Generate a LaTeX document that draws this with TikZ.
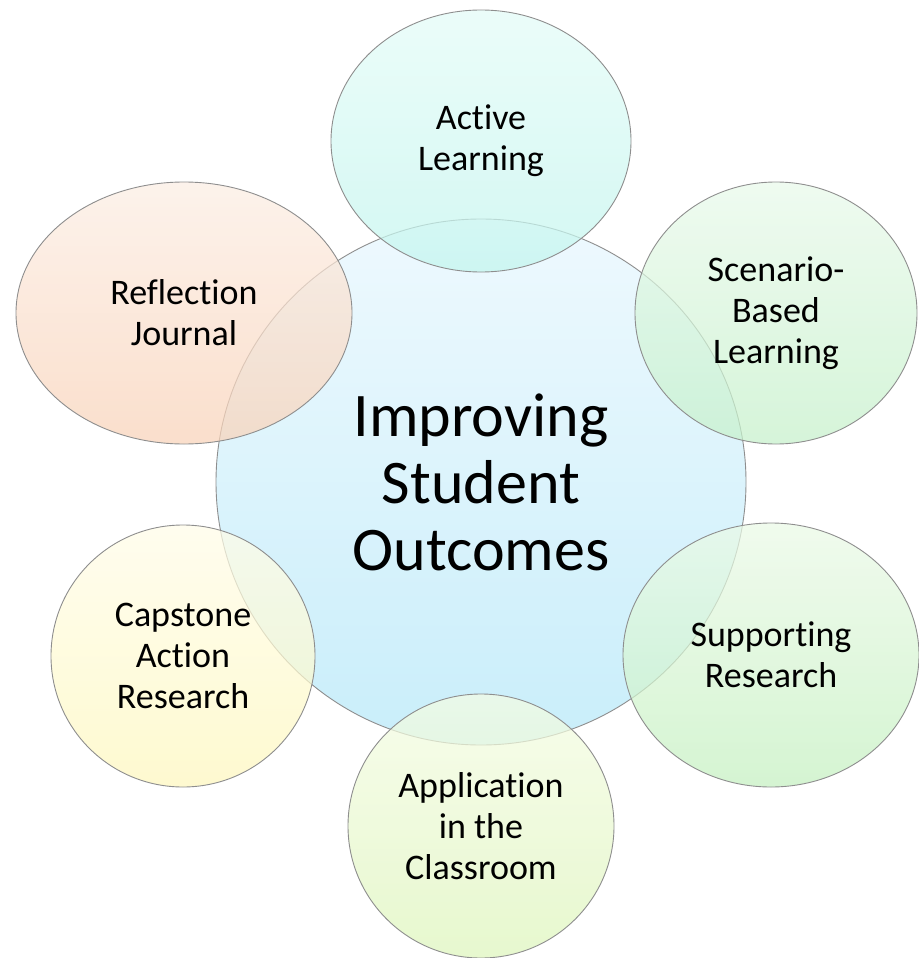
\documentclass[tikz,border=0pt]{standalone}
\usepackage{fontspec}
\setmainfont{Carlito}[RawFeature={-liga;-clig;-calt;-dlig}]
\usetikzlibrary{shapes.geometric}
\newcommand{\tbrk}{t\kern0pt }
\definecolor{edgegray}{HTML}{8E8E8E}
\definecolor{ctrTop}{HTML}{EEF9FE}\definecolor{ctrBot}{HTML}{C9EEFA}
\definecolor{actTop}{HTML}{E4FCF8}\definecolor{actBot}{HTML}{C3F6EE}
\definecolor{refTop}{HTML}{FCEEE4}\definecolor{refBot}{HTML}{F9D3B9}
\definecolor{scnTop}{HTML}{E9FAEB}\definecolor{scnBot}{HTML}{C6F1CB}
\definecolor{supTop}{HTML}{EBFAE7}\definecolor{supBot}{HTML}{C5F1C1}
\definecolor{appTop}{HTML}{F5FCE4}\definecolor{appBot}{HTML}{DEF6BC}
\definecolor{capTop}{HTML}{FFFDE9}\definecolor{capBot}{HTML}{FEF8BE}
\tikzset{
  bubble/.style={ellipse, draw=edgegray, line width=0.9pt, inner sep=0pt,
    align=center, text=black, font=\fontsize{36}{41}\selectfont},
  sat/.style={bubble, fill opacity=0.72, text opacity=1, draw opacity=1},
  hub/.style={bubble, font=\fontsize{62}{67}\selectfont}
}
\begin{document}
\begin{tikzpicture}[x=1pt,y=-1pt]
\useasboundingbox (0,0) rectangle (918,958);
\fill[white] (0,0) rectangle (918,958);
\node[hub, top color=ctrTop, bottom color=ctrBot, minimum width=530pt, minimum height=526pt]
  (hubnode) at (481,482) {Improving\\Student\\Outcomes};
\node[sat, top color=actTop, bottom color=actBot, minimum width=300pt, minimum height=262pt]
  (active) at (481,141) {Ac\tbrk ive\\Learning};
\node[sat, top color=refTop, bottom color=refBot, minimum width=336pt, minimum height=262pt]
  (reflect) at (184,313) {Reflec\tbrk ion\\Journal};
\node[sat, top color=scnTop, bottom color=scnBot, minimum width=282pt, minimum height=262pt]
  (scenario) at (776,313) {Scenario-\\Based\\Learning};
\node[sat, top color=supTop, bottom color=supBot, minimum width=296pt, minimum height=264pt]
  (support) at (771,655) {Supporting\\Research};
\node[sat, top color=capTop, bottom color=capBot, minimum width=264pt, minimum height=262pt]
  (capstone) at (183,656) {Capstone\\Ac\tbrk ion\\Research};
\node[sat, top color=appTop, bottom color=appBot, minimum width=266pt, minimum height=264pt]
  (apply) at (481,826) {Applica\tbrk ion\\in the\\Classroom};
\end{tikzpicture}
\end{document}
